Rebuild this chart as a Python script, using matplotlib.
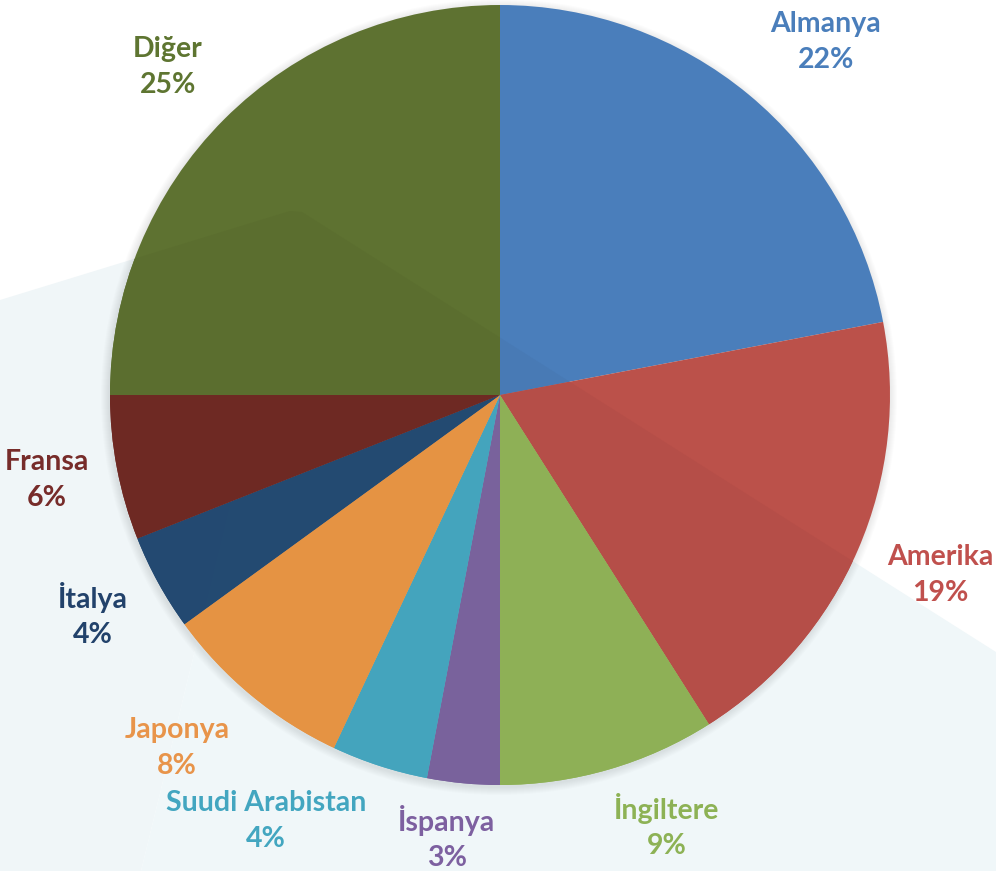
import matplotlib
matplotlib.use("Agg")
import matplotlib.pyplot as plt
from matplotlib.patches import Polygon, Circle, Wedge
import numpy as np

# Export shares by country (%)
countries = ["Almanya", "Amerika", "İngiltere", "İspanya", "Suudi Arabistan",
             "Japonya", "İtalya", "Fransa", "Diğer"]
shares = [22, 19, 9, 3, 4, 8, 4, 6, 25]

slice_colors = ["#4A7EBB", "#BB514A", "#93B659", "#7D65A1", "#46A9C3",
                "#ED9845", "#244C75", "#722A24", "#5E7231"]
label_colors = ["#4A7EBB", "#C0504D", "#8DB255", "#7D60A0", "#43A6C0",
                "#E8944A", "#22426B", "#772C2A", "#5E7531"]

W, H = 996, 871
fig = plt.figure(figsize=(W / 100, H / 100), dpi=100)
ax = fig.add_axes([0, 0, 1, 1])
fig.patch.set_facecolor("white")


def py(y):
    return H - y


# pale background facets
left_face = [(0, py(300)), (290, py(211)), (302, py(212)), (141, py(871)), (0, py(871))]
right_face = [(302, py(212)), (996, py(652)), (996, py(871)), (141, py(871))]
ax.add_patch(Polygon(left_face, closed=True, facecolor="#F0F6F8", edgecolor="none", zorder=0))
ax.add_patch(Polygon(right_face, closed=True, facecolor="#F0F7F9", edgecolor="none", zorder=0))

cx, cy, r = 500, py(395), 390

# soft shadow around the pie
for i in range(1, 9):
    ax.add_patch(Circle((cx - 1, cy - 2), r + i, facecolor="black", alpha=0.012,
                        edgecolor="none", zorder=1))

wedges, _ = ax.pie(shares, colors=slice_colors, startangle=90, counterclock=False,
                   center=(cx, cy), radius=r, frame=True,
                   wedgeprops=dict(linewidth=0, zorder=2))
ax.set_xlim(0, W)
ax.set_ylim(0, H)
ax.set_aspect("equal")
ax.axis("off")


# slightly darker overlay where the pie sits over the background facets
def darker(c, f):
    rgb = np.array(matplotlib.colors.to_rgb(c))
    return tuple(rgb * f)


for face, f in [(left_face, 0.965), (right_face, 0.968)]:
    clip = Polygon(face, closed=True, transform=ax.transData)
    for w, c in zip(wedges, slice_colors):
        wd = Wedge(w.center, w.r, w.theta1, w.theta2, facecolor=darker(c, f),
                   edgecolor="none", zorder=3)
        ax.add_patch(wd)
        wd.set_clip_path(clip)

# labels
label_pos = [(826, 42), (940, 575), (667, 826), (447, 838), (266, 821),
             (177, 748), (93, 615), (47, 480), (168, 67)]
for name, v, (x, y), col in zip(countries, shares, label_pos, label_colors):
    ax.text(x, py(y), f"{name}\n{v}%", ha="center", va="center", color=col,
            fontsize=20.5, fontweight="bold", family=["Lato", "DejaVu Sans"],
            linespacing=1.45, zorder=5)

fig.savefig("out.png", dpi=100, facecolor="white")
